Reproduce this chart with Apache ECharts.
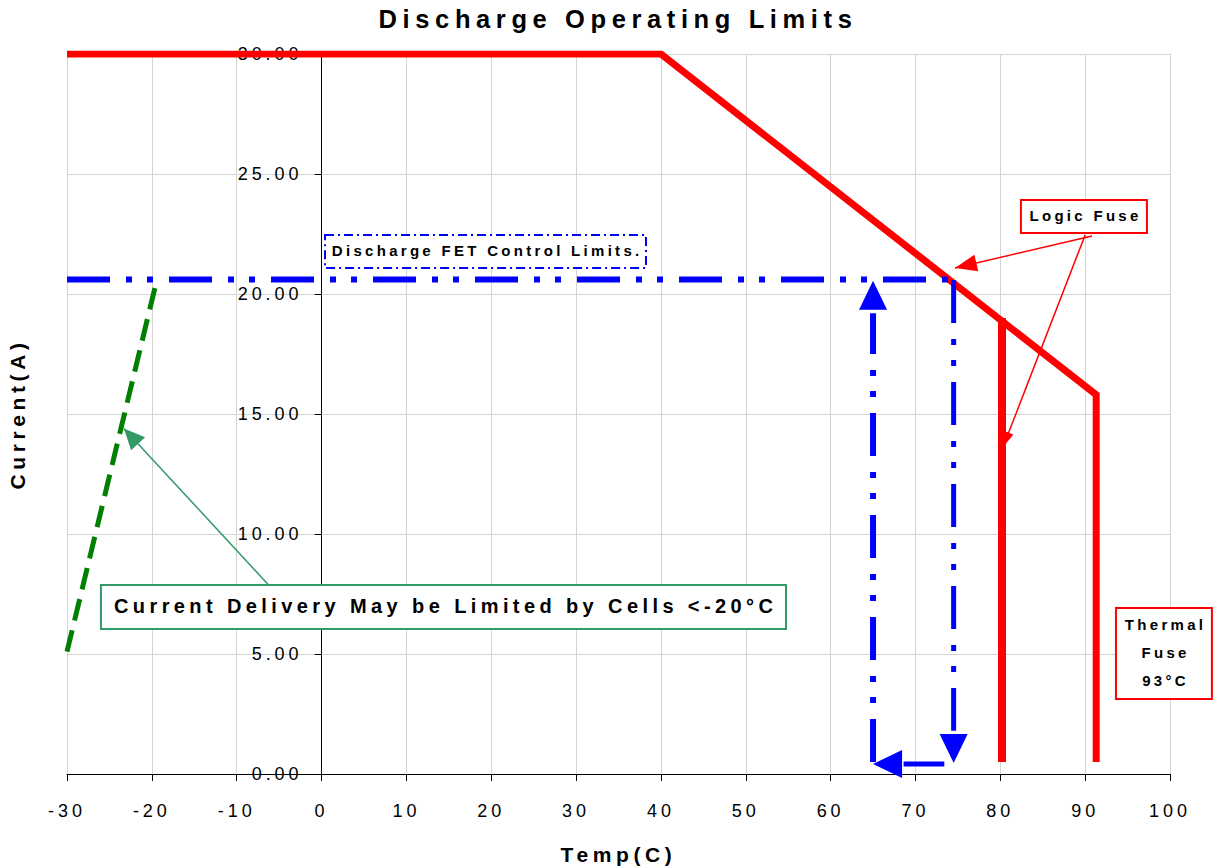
<!DOCTYPE html>
<html>
<head>
<meta charset="utf-8">
<script src="https://cdn.jsdelivr.net/npm/echarts@6/dist/echarts.min.js"></script>
<style>
    html, body { margin: 0; padding: 0; background: #fff; }
    #chart { width: 1217px; height: 867px; }
    /* the source chart has widely spaced lettering everywhere */
    #chart text { letter-spacing: 0.22em; }
</style>
</head>
<body>
<div id="chart"></div>
<script>
    var FONT = 'Liberation Sans, Arial, sans-serif';

    // axis ranges
    var xRange = [-30, 100], xStep = 10;
    var yRange = [0, 30], yStep = 5;

    // limit curves, [temp, current]
    var logicLimit = [[-30, 30], [40, 30], [91.3, 15.8], [91.3, 0.5]];
    var fuseAt80 = [[80.2, 19.0], [80.2, 0.5]];
    var fetLimit = [[-30, 20.6], [74.5, 20.6]];
    var fetDrop = [[74.5, 20.58], [74.5, 1.8]];
    var fetRise = [[65, 0.5], [65, 19.2]];
    var fetBack = [[73.4, 0.42], [68.6, 0.42]];
    var cellLimit = [[-30, 5.1], [-19.4, 20.6]];

    // arrow heads, [fromX, fromY, tipX, tipY]
    var fetHeads = [[65, 19.0, 65, 20.55], [74.5, 2.0, 74.5, 0.46], [70, 0.42, 65.0, 0.42]];

    // leader lines of the notes
    var logicLeaderA = [[90.8, 22.42], [74.65, 21.08]];
    var logicLeaderB = [[90.0, 22.46], [80.3, 13.6]];
    var cellLeader = [[-6.3, 7.9], [-23.3, 14.4]];

    // note boxes, [x1, yTop, x2, yBottom]
    var logicBox = [82.43, 23.92, 97.28, 22.54];
    var fetBox = [0.41, 22.46, 38.24, 21.08];
    var cellBox = [-26.0, 7.875, 54.74, 6.04];
    var thermalBox = [93.63, 6.92, 104.94, 3.125];

    var logicText = 'Logic Fuse';
    var fetText = 'Discharge FET Control Limits.';
    var cellText = 'Current Delivery May be Limited by Cells <-20°C';
    var thermalText = 'Thermal\nFuse\n93°C';

    function lineSeries(data, color, width, dash) {
        return {
            type: 'line',
            data: data,
            symbol: 'none',
            silent: true,
            z: 3,
            lineStyle: { color: color, width: width, type: dash || 'solid', cap: 'butt', join: 'miter' }
        };
    }

    function leaderHead(leader) {
        return [leader[0][0], leader[0][1], leader[1][0], leader[1][1]];
    }

    function headSeries(data, color, len, wid) {
        return {
            type: 'custom',
            data: data,
            clip: false,
            silent: true,
            z: 5,
            renderItem: function (params, api) {
                var a = api.coord([api.value(0), api.value(1)]);
                var b = api.coord([api.value(2), api.value(3)]);
                var dx = b[0] - a[0], dy = b[1] - a[1];
                var d = Math.sqrt(dx * dx + dy * dy);
                dx /= d; dy /= d;
                var bx = b[0] - dx * len, by = b[1] - dy * len;
                return {
                    type: 'polygon',
                    shape: { points: [b, [bx - dy * wid / 2, by + dx * wid / 2], [bx + dy * wid / 2, by - dx * wid / 2]] },
                    style: { fill: color }
                };
            }
        };
    }

    function noteSeries(box, text, color, dash, fontSize, lineHeight) {
        return {
            type: 'custom',
            data: [box],
            clip: false,
            silent: true,
            z: 6,
            renderItem: function (params, api) {
                var p1 = api.coord([api.value(0), api.value(1)]);
                var p2 = api.coord([api.value(2), api.value(3)]);
                return {
                    type: 'group',
                    children: [{
                        type: 'rect',
                        shape: { x: p1[0], y: p1[1], width: p2[0] - p1[0], height: p2[1] - p1[1] },
                        style: { fill: '#fff', stroke: color, lineWidth: 2, lineDash: dash || null }
                    }, {
                        type: 'text',
                        style: {
                            text: text,
                            x: (p1[0] + p2[0]) / 2 + fontSize * 0.11,
                            y: (p1[1] + p2[1]) / 2 - 1,
                            align: 'center',
                            verticalAlign: 'middle',
                            fill: '#000',
                            font: 'bold ' + fontSize + 'px ' + FONT,
                            lineHeight: lineHeight || fontSize * 1.2
                        }
                    }]
                };
            }
        };
    }

    var blueDash = [43, 16, 6, 15, 6, 16];

    var option = {
        animation: false,
        backgroundColor: '#fff',
        title: {
            text: 'Discharge Operating Limits',
            left: 618,
            textAlign: 'center',
            top: 6,
            padding: 0,
            textStyle: { fontFamily: FONT, fontSize: 25.5, fontWeight: 'bold', color: '#000' }
        },
        grid: { left: 67, right: 47, top: 54, bottom: 93, containLabel: false, outerBoundsMode: 'none' },
        xAxis: {
            type: 'value',
            min: xRange[0],
            max: xRange[1],
            interval: xStep,
            name: 'Temp(C)',
            nameLocation: 'middle',
            nameGap: 70,
            nameTextStyle: { fontFamily: FONT, fontSize: 21, fontWeight: 'bold', color: '#000' },
            axisLine: { show: true, onZero: false, lineStyle: { color: '#000', width: 1 } },
            axisTick: { show: true, length: 7, lineStyle: { color: '#000' } },
            axisLabel: { color: '#000', fontFamily: FONT, fontSize: 18, margin: 28 },
            splitLine: { show: true, lineStyle: { color: '#d4d4d4', width: 1 } }
        },
        yAxis: {
            type: 'value',
            min: yRange[0],
            max: yRange[1],
            interval: yStep,
            position: 'left',
            // the axis crosses at 0 degrees: 30 of 130 degrees across the plot
            offset: -(1217 - 67 - 47) * 30 / 130,
            name: 'Current(A)',
            nameLocation: 'middle',
            nameRotate: 90,
            nameGap: 294,
            nameTextStyle: { fontFamily: FONT, fontSize: 21, fontWeight: 'bold', color: '#000' },
            axisLine: { show: true, onZero: false, lineStyle: { color: '#000', width: 1 } },
            axisTick: { show: true, length: 7, lineStyle: { color: '#000' } },
            axisLabel: {
                color: '#000', fontFamily: FONT, fontSize: 18, margin: 19,
                formatter: function (v) { return v.toFixed(2); }
            },
            splitLine: { show: true, lineStyle: { color: '#d4d4d4', width: 1 } }
        },
        series: [
            lineSeries(logicLimit, '#ff0000', 7),
            lineSeries(fuseAt80, '#ff0000', 8),
            lineSeries(fetLimit, '#0000ff', 6, blueDash),
            lineSeries(fetDrop, '#0000ff', 5, blueDash),
            lineSeries(fetRise, '#0000ff', 6, blueDash),
            lineSeries(fetBack, '#0000ff', 5),
            lineSeries(cellLimit, '#008000', 5, [22, 10]),
            headSeries(fetHeads, '#0000ff', 29, 28),
            lineSeries(logicLeaderA, '#ff0000', 1.5),
            lineSeries(logicLeaderB, '#ff0000', 1.5),
            lineSeries(cellLeader, '#339966', 1.5),
            headSeries([leaderHead(logicLeaderA)], '#ff0000', 22, 17),
            headSeries([leaderHead(logicLeaderB)], '#ff0000', 16, 10),
            headSeries([leaderHead(cellLeader)], '#339966', 21, 19),
            noteSeries(logicBox, logicText, '#ff0000', null, 15),
            noteSeries(fetBox, fetText, '#0000ff', [9, 4, 2, 4], 15),
            noteSeries(cellBox, cellText, '#339966', null, 20),
            noteSeries(thermalBox, thermalText, '#ff0000', null, 15, 28)
        ]
    };

    var myChart = echarts.init(document.getElementById('chart'), null, { renderer: 'svg' });
    myChart.setOption(option);
</script>
</body>
</html>
